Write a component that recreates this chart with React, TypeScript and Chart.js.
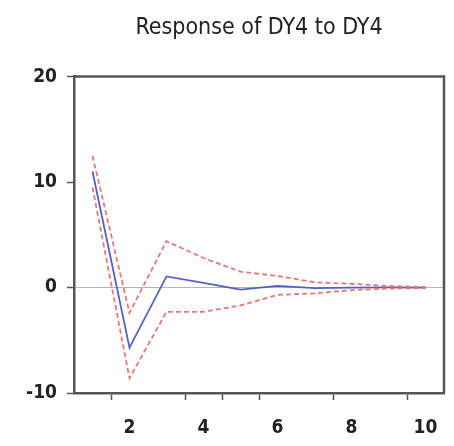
import React, { useEffect, useRef } from "react";
import { Chart, registerables } from "chart.js";

Chart.register(...registerables);

const chartTitle = "Response of DY4 to DY4";
const periods = [1, 2, 3, 4, 5, 6, 7, 8, 9, 10];
const response = [11.0, -5.7, 1.05, 0.45, -0.2, 0.15, -0.05, 0.0, 0.02, 0.0];
const upperBand = [12.5, -2.4, 4.4, 2.8, 1.5, 1.1, 0.5, 0.35, 0.15, 0.05];
const lowerBand = [9.5, -8.6, -2.3, -2.3, -1.7, -0.7, -0.55, -0.25, -0.1, -0.05];
const xTickMarks = [1.5, 3.5, 4.5, 5.5, 7.5, 9.5];
const xTickLabels: Record<string, string> = { "1.5": "2", "3.5": "4", "5.5": "6", "7.5": "8", "9.5": "10" };
const yTicks = [-10, 0, 10, 20];

const FONT = "'Liberation Sans Narrow', 'DejaVu Sans Condensed', 'Arial Narrow', sans-serif";
const AXIS = "#555555";

const framePlugin = {
  id: "frame",
  afterDatasetsDraw(chart: any) {
    const { ctx, chartArea: a } = chart;
    ctx.save();
    ctx.strokeStyle = AXIS;
    ctx.lineWidth = 2.5;
    ctx.beginPath();
    ctx.moveTo(a.left, a.top);
    ctx.lineTo(a.right, a.top);
    ctx.lineTo(a.right, a.bottom);
    ctx.stroke();
    ctx.restore();
  },
};

export default function App() {
  const ref = useRef<HTMLCanvasElement>(null);
  useEffect(() => {
    document.body.style.margin = "0";
    const toPts = (arr: number[]) => periods.map((p, i) => ({ x: p, y: arr[i] }));
    const chart = new Chart(ref.current!, {
      type: "line",
      data: {
        datasets: [
          {
            label: "upper",
            data: toPts(upperBand),
            borderColor: "#e87878",
            borderWidth: 1.8,
            borderDash: [5, 3],
            pointRadius: 0,
            tension: 0,
          },
          {
            label: "lower",
            data: toPts(lowerBand),
            borderColor: "#e87878",
            borderWidth: 1.8,
            borderDash: [5, 3],
            pointRadius: 0,
            tension: 0,
          },
          {
            label: "response",
            data: toPts(response),
            borderColor: "#5262c4",
            borderWidth: 1.8,
            pointRadius: 0,
            tension: 0,
          },
        ],
      },
      options: {
        animation: false,
        responsive: true,
        maintainAspectRatio: false,
        devicePixelRatio: 1,
        layout: { padding: { left: 0, right: 10, top: 0, bottom: 0 } },
        plugins: {
          legend: { display: false },
          tooltip: { enabled: false },
          title: {
            display: true,
            text: chartTitle,
            fullSize: false,
            color: "#222",
            font: { family: FONT, size: 23, weight: "normal", lineHeight: 1.2 },
            padding: { top: 14, bottom: 35 },
          },
        },
        scales: {
          x: {
            type: "linear",
            min: 0.5,
            max: 10.5,
            afterBuildTicks: (scale: any) => {
              scale.ticks = xTickMarks.map((v) => ({ value: v }));
            },
            afterFit: (scale: any) => {
              scale.height = 53;
            },
            border: { display: true, color: AXIS, width: 2.5 },
            grid: { drawOnChartArea: false, drawTicks: true, tickLength: 7, tickColor: AXIS, tickWidth: 1.5 },
            ticks: {
              autoSkip: false,
              maxRotation: 0,
              padding: 17,
              labelOffset: 18.5,
              color: "#222",
              font: { family: FONT, size: 19, weight: "bold" },
              callback: (v: any) => xTickLabels[String(v)] ?? "",
            },
          },
          y: {
            type: "linear",
            min: -10,
            max: 20,
            afterBuildTicks: (scale: any) => {
              scale.ticks = yTicks.map((v) => ({ value: v }));
            },
            afterFit: (scale: any) => {
              scale.width = 74;
            },
            border: { display: true, color: AXIS, width: 2.5 },
            grid: {
              drawOnChartArea: true,
              drawTicks: true,
              tickLength: 7,
              tickColor: AXIS,
              tickWidth: 1.5,
              color: (c: any) => (c.tick && c.tick.value === 0 ? "#b4b4b4" : "rgba(0,0,0,0)"),
              lineWidth: 1,
            },
            ticks: {
              padding: 10,
              color: "#222",
              font: { family: FONT, size: 19, weight: "bold" },
              callback: (v: any) => String(v),
            },
          },
        },
      },
      plugins: [framePlugin],
    });
    return () => chart.destroy();
  }, []);
  return (
    <div style={{ position: "fixed", left: 0, top: 0, width: 454, height: 446, background: "#fff" }}>
      <canvas ref={ref} />
    </div>
  );
}
